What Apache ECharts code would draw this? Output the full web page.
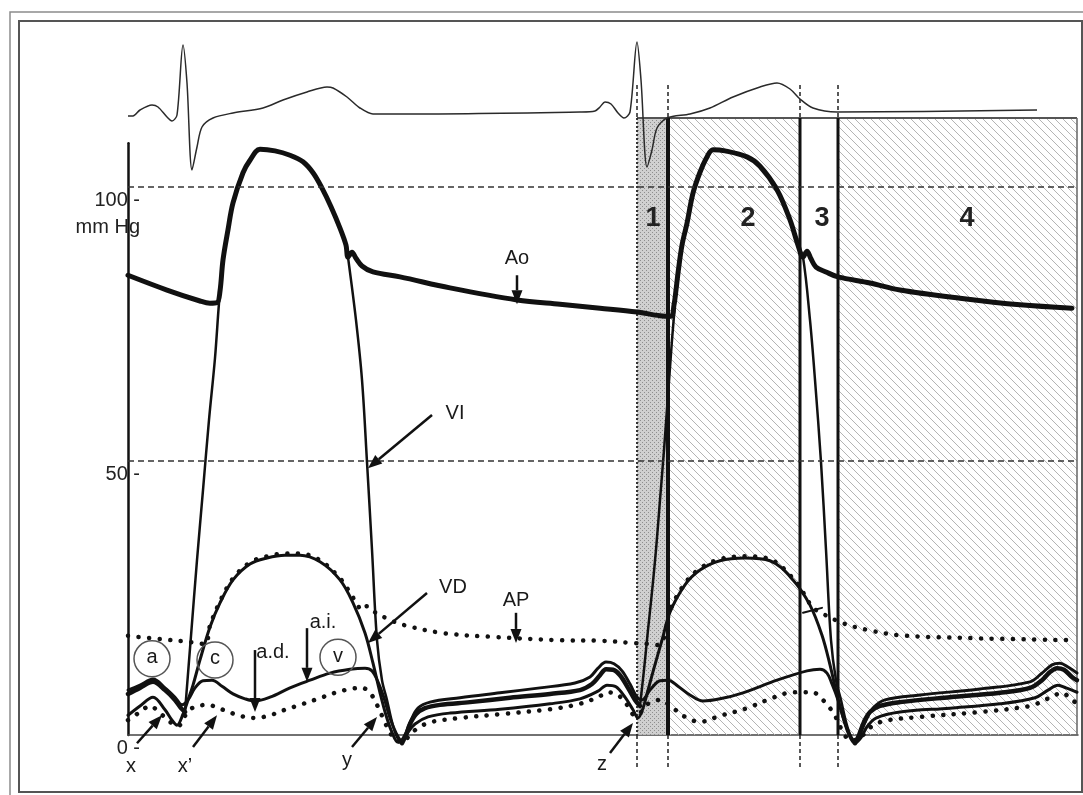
<!DOCTYPE html>
<html>
<head>
<meta charset="utf-8">
<style>
  html, body { margin: 0; padding: 0; background: #fff; }
  #chart { width: 1083px; height: 795px; }
</style>
<script src="https://cdn.jsdelivr.net/npm/echarts@6/dist/echarts.min.js"></script>
</head>
<body>
<div id="chart"></div>
<script>
// Time (t, ms-like units) vs pressure (mmHg). Two cardiac cycles.
const pressureTicks = [0, 50, 100];
const pressureGridLines = [50, 100];

// ECG trace (mV) on its own strip above the pressure panel
const ecgTrace = [[0,-0.04],[5,-0.04],[12,0.08],[24,0.18],[30,0.14],[39,-0.06],[44,-0.14],[49,-0.02],[55,1.38],[59,0.62],[64,-1.12],[69,-0.66],[74,-0.26],[85,-0.08],[105,0.02],[135,0.12],[155,0.28],[179,0.44],[199,0.54],[205,0.52],[219,0.34],[232,0.12],[245,0],[272,0],[452,0.04],[467,0.06],[472,0.14],[477,0.24],[483,0.2],[490,0.02],[496,-0.08],[502,0.04],[509,1.44],[513,0.68],[519,-1.06],[524,-0.72],[529,-0.28],[539,-0.08],[562,0],[582,0.12],[605,0.34],[632,0.54],[649,0.62],[662,0.5],[672,0.3],[685,0.12],[709,0.04],[909,0.08]];

// Aortic pressure (Ao)
const aorta = [[0,83.9],[39,81.2],[72,79.2],[82,78.8],[89,78.9],[92,81.0],[95,86.7],[100,92.2],[105,97.1],[115,102.6],[122,104.9],[132,106.9],[147,106.6],[162,105.8],[175,104.6],[185,102.6],[194,99.8],[203,96.4],[212,92.5],[218,89.4],[220,87.2],[224,88.1],[228,87.0],[234,85.6],[245,84.5],[272,83.6],[322,81.6],[389,79.4],[432,78.6],[472,77.9],[509,77.2],[532,76.5],[543,76.4],[546,78.5],[548,81.2],[550,84.3],[554,89.4],[559,93.4],[565,98.9],[572,102.7],[579,105.5],[585,106.8],[597,106.6],[619,105.5],[632,103.8],[649,99.5],[662,94.0],[670,89.4],[675,87.2],[679,88.3],[683,86.9],[688,85.4],[698,84.5],[710,83.6],[742,82.5],[772,81.2],[832,79.7],[892,78.5],[944,77.9]];

// Left ventricle (VI): systolic beats (thin) and diastolic filling (thick)
const lvFillStart = [[0,7.5],[12,8.6],[25,9.7],[37,8.2],[47,6.4],[53,4.9],[57,4.2]];
const lvBeat1 = [[57,4.2],[63,18.1],[69,31.9],[75,44.7],[81,57.5],[87,68.8],[91,78.8],[95,86.7],[100,92.2],[105,97.1],[115,102.6],[122,104.9],[132,106.9],[147,106.6],[162,105.8],[175,104.6],[185,102.6],[194,99.8],[203,96.4],[212,92.5],[218,89.4],[220,87.2],[228,75.7],[234,64.8],[239,49.8],[244,33.8],[249,17.3],[254,10.0],[259,6.4],[264,2.4],[269,-0.4],[274,-1.5]];
const lvFill1 = [[274,-1.5],[278,0],[282,2.0],[288,3.8],[297,4.9],[312,5.5],[342,6.0],[382,6.8],[422,7.5],[452,8.2],[464,9.3],[472,10.9],[478,12.0],[485,11.9],[492,10.9],[500,8.6],[507,6.4],[512,5.3]];
const lvBeat2 = [[512,5.3],[516,11.9],[520,19.2],[524,26.1],[528,33.8],[532,42.9],[536,52.0],[540,62.0],[544,72.1],[546,76.5],[548,81.2],[550,84.3],[554,89.4],[559,93.4],[565,98.9],[572,102.7],[579,105.5],[585,106.8],[597,106.6],[619,105.5],[632,103.8],[649,99.5],[662,94.0],[670,89.4],[675,87.2],[682,75.7],[687,64.8],[693,49.8],[698,33.8],[703,17.3],[708,10.0],[713,6.4],[718,2.4],[723,-0.4],[727,-1.5]];
const lvFill2 = [[727,-1.5],[731,0],[736,2.4],[742,4.2],[752,5.3],[772,6.0],[822,6.9],[872,7.7],[902,8.6],[914,10.0],[922,11.5],[929,12.2],[936,11.9],[944,10.6],[949,10.0]];

// Left atrium (a.i.)
const leftAtrium = [[0,8.2],[12,9.1],[25,10.2],[37,8.6],[47,6.9],[54,5.5],[60,6.4],[67,8.6],[75,9.9],[84,10.0],[94,8.9],[105,7.5],[117,6.6],[127,6.2],[142,6.9],[162,8.6],[182,10.0],[202,11.3],[222,12.0],[237,12.2],[244,11.7],[250,9.7],[256,6.8],[262,3.1],[268,0.4],[273,-0.9],[278,0.4],[283,2.7],[290,4.9],[302,6.0],[332,6.8],[372,7.7],[412,8.6],[447,9.5],[462,10.6],[470,12.2],[478,13.3],[486,13.0],[494,11.7],[502,9.3],[509,6.9],[514,6.4],[522,8.2],[532,9.9],[540,10.0],[550,8.9],[562,7.3],[575,6.2],[592,6.6],[615,7.7],[649,10.0],[679,11.7],[692,12.0],[699,11.3],[704,9.3],[710,6.4],[716,2.7],[722,0],[727,-1.1],[732,0.2],[738,2.7],[745,4.9],[757,6.4],[792,7.3],[852,8.4],[902,9.7],[914,11.3],[924,12.8],[932,13.1],[940,12.4],[949,11.3]];

// Right ventricle (VD)
const rightVentricle = [[0,3.6],[12,5.3],[25,6.9],[37,4.6],[44,2.7],[49,1.8],[55,3.8],[60,6.4],[65,9.1],[72,13.7],[82,19.7],[92,24.1],[105,28.3],[122,31.2],[139,32.3],[157,32.8],[172,32.8],[192,31.6],[212,28.3],[225,24.1],[237,18.6],[245,13.1],[252,7.7],[258,3.6],[264,0.5],[270,-1.3],[275,-0.9],[280,0.5],[287,2.0],[300,3.3],[322,4.0],[372,4.7],[422,5.7],[452,6.6],[470,8.0],[479,9.1],[488,8.8],[497,6.9],[505,4.6],[510,3.1],[515,4.9],[520,8.2],[526,12.2],[534,17.3],[542,22.4],[557,27.4],[572,30.1],[592,31.8],[617,32.3],[642,31.8],[665,28.3],[682,23.7],[694,18.2],[702,12.8],[709,7.3],[715,3.3],[721,0],[727,-1.5],[733,-0.5],[739,1.5],[748,3.1],[772,4.2],[822,4.9],[872,5.7],[907,6.8],[920,8.2],[930,9.1],[938,8.6],[949,7.8]];

// Right atrium (a.d.)
const rightAtrium = [[0,2.7],[12,4.2],[22,5.3],[32,4.0],[42,2.4],[50,1.6],[57,3.5],[64,4.9],[79,5.5],[95,4.6],[112,3.5],[127,3.1],[142,3.6],[157,4.6],[172,5.5],[190,6.6],[207,7.7],[222,8.4],[234,8.6],[242,7.7],[249,5.5],[256,2.7],[262,0.4],[268,-0.9],[274,-1.3],[282,0],[290,1.3],[304,2.4],[332,3.1],[372,3.8],[422,4.7],[452,5.7],[470,6.9],[480,7.8],[490,7.3],[500,5.3],[507,3.5],[513,4.2],[520,5.7],[532,6.4],[545,4.9],[559,3.1],[572,2.4],[592,3.5],[619,4.9],[645,6.8],[665,7.8],[684,7.8],[697,6.0],[707,3.5],[714,0.9],[722,-0.9],[730,-0.9],[737,0.4],[744,1.6],[757,2.6],[792,3.3],[852,4.2],[902,5.3],[917,6.4],[927,7.3],[935,7.7],[942,6.6],[949,5.8]];

// Pulmonary artery (AP)
const pulmonaryArtery = [[0,18.1],[32,17.5],[60,17.0],[77,16.6],[82,20.0],[92,24.4],[105,28.6],[122,31.5],[139,32.6],[157,33.1],[172,33.1],[192,31.9],[212,28.6],[222,26.0],[229,23.9],[234,22.8],[239,23.5],[247,22.4],[262,21.0],[275,20.1],[315,18.6],[365,17.9],[432,17.3],[472,17.2],[505,16.8],[522,16.6],[530,16.4],[536,17.8],[542,22.7],[557,27.7],[572,30.4],[592,32.1],[617,32.6],[642,32.1],[665,28.6],[677,25.5],[684,23.4],[692,22.4],[715,20.4],[739,19.2],[772,18.2],[839,17.7],[945,17.3]];
const pulmonaryIncisura = [[675,22.3],[694,23.2]];

// Phases of the second cycle: boundaries in t, box top in mmHg
const phaseBounds = [509, 540, 672, 710, 949];
const phaseBoxTop = 112.6;
const phaseMarkTop = 118.6;
const phaseMarkBottom = -6.0;
const phaseNumbers = [['1', 525, 94.3], ['2', 620, 94.3], ['3', 694, 94.3], ['4', 839, 94.3]];

// Annotations: text labels, circled waves and arrows (data coordinates)
const labels = [['Ao', 389, 87.0], ['VI', 327, 58.6], ['VD', 325, 27.0], ['AP', 388, 24.6], ['a.i.', 195, 20.6], ['a.d.', 145, 15.0], ['x', 3, -5.7], ['x\u2019', 57, -5.7], ['y', 219, -4.6], ['z', 474, -5.3]];
const waveCircles = [['a', 24, 13.9], ['c', 87, 13.7], ['v', 210, 14.2]];
const arrows = [[389, 83.9, 389, 78.6], [304, 58.4, 240, 48.7], [299, 25.9, 240, 16.8], [388, 22.3, 388, 16.8], [179, 19.5, 179, 9.7], [127, 15.5, 127, 4.2], [9, -1.5, 34, 3.6], [65, -2.2, 89, 3.6], [224, -2.2, 249, 3.3], [482, -3.3, 505, 2.2]];

const FONT = '"Liberation Sans", Arial, Helvetica, sans-serif';
const INK = '#111';

function makeHatch() {
  const s = 8;
  const c = document.createElement('canvas');
  c.width = s; c.height = s;
  const g = c.getContext('2d');
  g.strokeStyle = '#b4b4b4';
  g.lineWidth = 1;
  g.beginPath();
  g.moveTo(-1, -1); g.lineTo(s + 1, s + 1);
  g.moveTo(-1, s - 1); g.lineTo(1, s + 1);
  g.moveTo(s - 1, -1); g.lineTo(s + 1, 1);
  g.stroke();
  return c;
}
function makeStipple() {
  const c = document.createElement('canvas');
  c.width = 4; c.height = 4;
  const g = c.getContext('2d');
  g.fillStyle = 'rgba(200,200,200,0.85)';
  g.fillRect(0, 0, 4, 4);
  g.fillStyle = 'rgba(135,135,135,0.9)';
  g.fillRect(0, 0, 1, 1);
  g.fillRect(2, 2, 1, 1);
  return c;
}
const hatchPattern = { image: makeHatch(), repeat: 'repeat' };
const stipplePattern = { image: makeStipple(), repeat: 'repeat' };

function lineSeries(name, data, width, extra) {
  return Object.assign({
    name: name, type: 'line', data: data, xAxisIndex: 0, yAxisIndex: 0,
    showSymbol: false, symbol: 'none', clip: false, z: 3,
    smooth: 0.35,
    lineStyle: { color: INK, width: width, cap: 'round', join: 'round' },
    silent: true
  }, extra || {});
}
function dotted(name, data) {
  return lineSeries(name, data, 4.5, {
    lineStyle: { color: INK, width: 4.5, type: [0.1, 10.5], cap: 'round', join: 'round' }
  });
}

const chart = echarts.init(document.getElementById('chart'));
chart.setOption({
  animation: false,
  backgroundColor: '#fff',
  graphic: [
    { type: 'polyline', shape: { points: [[10, 795], [10, 12], [1083, 12]] }, style: { stroke: '#8c8c8c', lineWidth: 1.5, fill: 'none' }, z: 0 },
    { type: 'rect', shape: { x: 19, y: 21, width: 1063, height: 771 }, style: { stroke: '#555', lineWidth: 2, fill: 'none' }, z: 0 }
  ],
  grid: [
    { left: 128, right: 5, top: 143.2, bottom: 60 },
    { left: 128, right: 5, top: 39, height: 140 }
  ],
  xAxis: [
    { type: 'value', gridIndex: 0, min: 0, max: 950,
      axisLine: { show: true, lineStyle: { color: '#444', width: 1.5 } },
      axisTick: { show: false }, axisLabel: { show: false }, splitLine: { show: false } },
    { type: 'value', gridIndex: 1, min: 0, max: 950, show: false }
  ],
  yAxis: [
    { type: 'value', gridIndex: 0, min: 0, max: 108, interval: 50,
      axisLine: { show: true, lineStyle: { color: INK, width: 2.5 } },
      axisTick: { show: false }, splitLine: { show: false },
      axisLabel: {
        margin: -12, fontSize: 20, color: '#222', fontFamily: FONT,
        verticalAlign: 'top', lineHeight: 27, align: 'right',
        formatter: function (v) {
          if (pressureTicks.indexOf(v) < 0) return '';
          return v === 100 ? '100 -\nmm Hg' : v + ' -';
        }
      } },
    { type: 'value', gridIndex: 0, min: 0, max: 108, show: false },
    { type: 'value', gridIndex: 1, min: -1.3, max: 1.5, show: false }
  ],
  series: [
    {
      type: 'custom', name: 'phases', coordinateSystem: 'cartesian2d', xAxisIndex: 0, yAxisIndex: 0,
      data: [[0, 0]], z: 1, clip: false, silent: true,
      renderItem: function (params, api) {
        const top = api.coord([0, phaseBoxTop])[1];
        const base = api.coord([0, 0])[1];
        const above = api.coord([0, phaseMarkTop])[1];
        const below = api.coord([0, phaseMarkBottom])[1];
        const xs = phaseBounds.map(function (t) { return api.coord([t, 0])[0]; });
        const kids = [
          { type: 'rect', shape: { x: xs[0], y: top, width: xs[1] - xs[0], height: base - top }, style: { fill: stipplePattern } },
          { type: 'rect', shape: { x: xs[1], y: top, width: xs[2] - xs[1], height: base - top }, style: { fill: hatchPattern } },
          { type: 'rect', shape: { x: xs[3], y: top, width: xs[4] - xs[3], height: base - top }, style: { fill: hatchPattern } },
          { type: 'line', shape: { x1: xs[0], y1: top, x2: xs[4], y2: top }, style: { stroke: '#555', lineWidth: 2 } },
          { type: 'line', shape: { x1: xs[4], y1: top, x2: xs[4], y2: base }, style: { stroke: '#666', lineWidth: 1.5 } },
          { type: 'line', shape: { x1: xs[0], y1: top, x2: xs[0], y2: base }, style: { stroke: '#222', lineWidth: 1.8, lineDash: [2, 2] } },
          { type: 'line', shape: { x1: xs[1], y1: top, x2: xs[1], y2: base }, style: { stroke: INK, lineWidth: 4 } },
          { type: 'line', shape: { x1: xs[2], y1: top, x2: xs[2], y2: base }, style: { stroke: INK, lineWidth: 3 } },
          { type: 'line', shape: { x1: xs[3], y1: top, x2: xs[3], y2: base }, style: { stroke: INK, lineWidth: 3 } }
        ];
        for (let i = 0; i < 4; i++) {
          kids.push({ type: 'line', shape: { x1: xs[i], y1: above, x2: xs[i], y2: top }, style: { stroke: '#222', lineWidth: 1.5, lineDash: [4, 3] } });
          kids.push({ type: 'line', shape: { x1: xs[i], y1: base, x2: xs[i], y2: below }, style: { stroke: '#222', lineWidth: 1.5, lineDash: [4, 3] } });
        }
        return { type: 'group', children: kids };
      }
    },
    lineSeries('Ao', aorta, 5, {
      markLine: {
        silent: true, symbol: 'none', label: { show: false },
        lineStyle: { color: '#333', width: 1.5, type: [6, 4] },
        data: pressureGridLines.map(function (v) { return { yAxis: v }; })
      }
    }),
    lineSeries('VI fill start', lvFillStart, 4.5),
    lineSeries('VI beat 1', lvBeat1, 2.5),
    lineSeries('VI fill 1', lvFill1, 4.5),
    lineSeries('VI beat 2', lvBeat2, 2.5),
    lineSeries('VI fill 2', lvFill2, 4.5),
    lineSeries('a.i.', leftAtrium, 3),
    lineSeries('VD', rightVentricle, 3),
    dotted('a.d.', rightAtrium),
    dotted('AP', pulmonaryArtery),
    lineSeries('AP incisura', pulmonaryIncisura, 2, { smooth: false }),
    {
      type: 'line', name: 'ECG', data: ecgTrace, xAxisIndex: 1, yAxisIndex: 2,
      showSymbol: false, symbol: 'none', smooth: 0.3, clip: false, z: 4, silent: true,
      lineStyle: { color: '#2a2a2a', width: 1.5, join: 'round' }
    },
    {
      type: 'custom', name: 'arrows', coordinateSystem: 'cartesian2d', xAxisIndex: 0, yAxisIndex: 0,
      data: arrows.map(function (a) { return [a[0], a[1], a[2], a[3]]; }), z: 6, clip: false, silent: true,
      encode: { x: [0, 2], y: [1, 3] },
      renderItem: function (params, api) {
        const p1 = api.coord([api.value(0), api.value(1)]);
        const p2 = api.coord([api.value(2), api.value(3)]);
        const dx = p2[0] - p1[0], dy = p2[1] - p1[1];
        const len = Math.sqrt(dx * dx + dy * dy);
        const ux = dx / len, uy = dy / len;
        const hl = 14, hw = 5.5;
        const bx = p2[0] - ux * hl, by = p2[1] - uy * hl;
        return { type: 'group', children: [
          { type: 'line', shape: { x1: p1[0], y1: p1[1], x2: bx, y2: by }, style: { stroke: INK, lineWidth: 2.5 } },
          { type: 'polygon', shape: { points: [[p2[0], p2[1]], [bx - uy * hw, by + ux * hw], [bx + uy * hw, by - ux * hw]] }, style: { fill: INK } }
        ] };
      }
    },
    {
      type: 'custom', name: 'labels', coordinateSystem: 'cartesian2d', xAxisIndex: 0, yAxisIndex: 0,
      data: labels.map(function (l) { return [l[1], l[2]]; }), z: 7, clip: false, silent: true,
      renderItem: function (params, api) {
        const p = api.coord([api.value(0), api.value(1)]);
        return { type: 'text', x: p[0], y: p[1], style: {
          text: labels[params.dataIndex][0], fill: '#1a1a1a', font: '20px ' + FONT,
          align: 'center', verticalAlign: 'middle' } };
      }
    },
    {
      type: 'custom', name: 'waves', coordinateSystem: 'cartesian2d', xAxisIndex: 0, yAxisIndex: 0,
      data: waveCircles.map(function (w) { return [w[1], w[2]]; }), z: 7, clip: false, silent: true,
      renderItem: function (params, api) {
        const p = api.coord([api.value(0), api.value(1)]);
        return { type: 'group', children: [
          { type: 'circle', shape: { cx: p[0], cy: p[1], r: 18 }, style: { fill: 'none', stroke: '#555', lineWidth: 1.5 } },
          { type: 'text', x: p[0], y: p[1] - 1, style: { text: waveCircles[params.dataIndex][0], fill: '#1a1a1a',
            font: '20px ' + FONT, align: 'center', verticalAlign: 'middle' } }
        ] };
      }
    },
    {
      type: 'custom', name: 'phase numbers', coordinateSystem: 'cartesian2d', xAxisIndex: 0, yAxisIndex: 0,
      data: phaseNumbers.map(function (n) { return [n[1], n[2]]; }), z: 7, clip: false, silent: true,
      renderItem: function (params, api) {
        const p = api.coord([api.value(0), api.value(1)]);
        return { type: 'text', x: p[0], y: p[1], style: {
          text: phaseNumbers[params.dataIndex][0], fill: '#222', font: 'bold 27px ' + FONT,
          align: 'center', verticalAlign: 'middle' } };
      }
    }
  ]
});
</script>
</body>
</html>
